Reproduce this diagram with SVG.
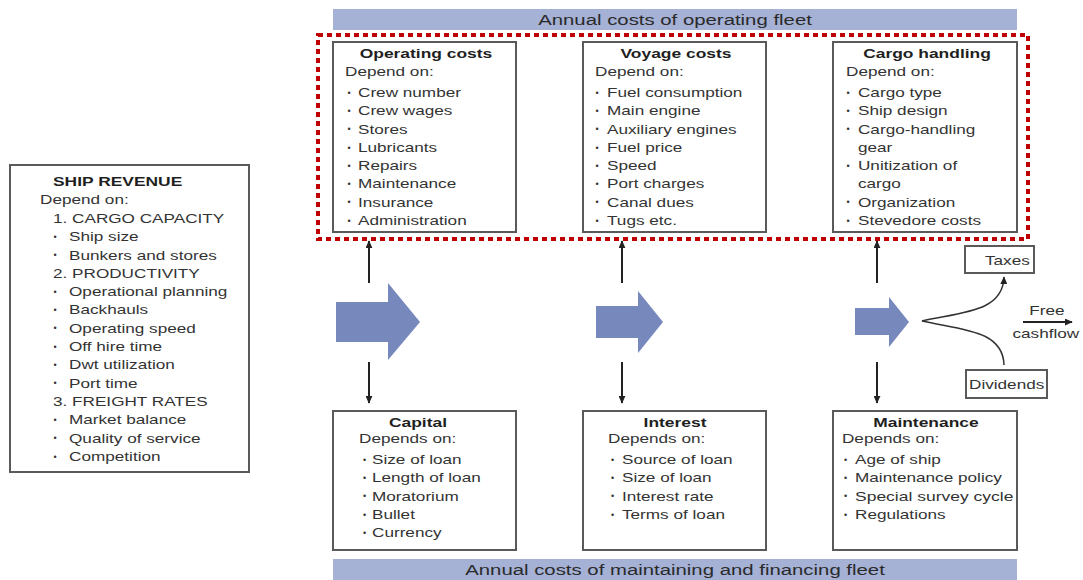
<svg xmlns="http://www.w3.org/2000/svg" width="1083" height="580" viewBox="0 0 1083 580">
  <style>
    text { font-family: "Liberation Sans", Arial, Helvetica, sans-serif; fill: #333; }
    /* body lines: left-aligned, widened horizontally */
    .s { font-size: 13px; transform-box: fill-box; transform-origin: 0 50%; transform: scaleX(1.32); }
    .sb { font-size: 13px; font-weight: bold; fill: #1f1f1f; transform-box: fill-box; transform-origin: 0 50%; transform: scaleX(1.34); }
    /* centred headings */
    .h { font-size: 13px; font-weight: bold; fill: #1f1f1f; text-anchor: middle; transform-box: fill-box; transform-origin: 50% 50%; transform: scaleX(1.34); }
    .c { font-size: 13px; text-anchor: middle; transform-box: fill-box; transform-origin: 50% 50%; transform: scaleX(1.32); }
    .ban { font-size: 15.3px; fill: #2a2a2a; text-anchor: middle; transform-box: fill-box; transform-origin: 50% 50%; transform: scaleX(1.33); }
    .b { font-size: 9px; fill: #333; }
    .box { fill: #fff; stroke: #5a5a5a; stroke-width: 2; }
    .band { fill: #a5b1d5; }
    .blk { fill: #7788bd; }
    .ln { fill: none; stroke: #222; stroke-width: 2; }
    .cv { fill: none; stroke: #333; stroke-width: 1.5; }
    .frame { fill: none; stroke: #c00000; stroke-width: 4; stroke-dasharray: 5 4; }
  </style>
  <defs>
    <marker id="ah" viewBox="0 0 10 10" refX="9" refY="5" markerWidth="8" markerHeight="7" preserveAspectRatio="none" orient="auto" markerUnits="userSpaceOnUse">
      <path d="M0,0 L10,5 L0,10 z" fill="#222"/>
    </marker>
  </defs>

  <rect width="1083" height="580" fill="#fff"/>

  <!-- header and footer bands -->
  <g id="band-operating">
    <rect class="band" x="333" y="9" width="684" height="21"/>
    <text class="ban" x="675" y="25">Annual costs of operating fleet</text>
  </g>
  <g id="band-financing">
    <rect class="band" x="333" y="559" width="684" height="21"/>
    <text class="ban" x="675" y="575">Annual costs of maintaining and financing fleet</text>
  </g>

  <!-- ship revenue -->
  <g id="ship-revenue">
    <rect class="box" x="10" y="165" width="239" height="307"/>
    <text class="sb" x="53" y="186">SHIP REVENUE</text>
    <text class="s" x="40" y="204">Depend on:</text>
    <text class="s" x="53" y="223">1. CARGO CAPACITY</text>
    <text class="b" x="53.5" y="239.9">•</text><text class="s" x="69" y="241.3">Ship size</text>
    <text class="b" x="53.5" y="258.2">•</text><text class="s" x="69" y="259.6">Bunkers and stores</text>
    <text class="s" x="53" y="277.9">2. PRODUCTIVITY</text>
    <text class="b" x="53.5" y="294.8">•</text><text class="s" x="69" y="296.2">Operational planning</text>
    <text class="b" x="53.5" y="313.1">•</text><text class="s" x="69" y="314.5">Backhauls</text>
    <text class="b" x="53.5" y="331.4">•</text><text class="s" x="69" y="332.8">Operating speed</text>
    <text class="b" x="53.5" y="349.7">•</text><text class="s" x="69" y="351.1">Off hire time</text>
    <text class="b" x="53.5" y="368">•</text><text class="s" x="69" y="369.4">Dwt utilization</text>
    <text class="b" x="53.5" y="386.3">•</text><text class="s" x="69" y="387.7">Port time</text>
    <text class="s" x="53" y="406">3. FREIGHT RATES</text>
    <text class="b" x="53.5" y="422.9">•</text><text class="s" x="69" y="424.3">Market balance</text>
    <text class="b" x="53.5" y="441.2">•</text><text class="s" x="69" y="442.6">Quality of service</text>
    <text class="b" x="53.5" y="459.5">•</text><text class="s" x="69" y="460.9">Competition</text>
  </g>

  <!-- operating cost boxes -->
  <g id="operating-costs">
    <rect class="box" x="333" y="42" width="183" height="190"/>
    <text class="h" x="426" y="58">Operating costs</text>
    <text class="s" x="345" y="76">Depend on:</text>
    <text class="b" x="347.5" y="95.6">•</text><text class="s" x="358" y="97">Crew number</text>
    <text class="b" x="347.5" y="113.9">•</text><text class="s" x="358" y="115.3">Crew wages</text>
    <text class="b" x="347.5" y="132.2">•</text><text class="s" x="358" y="133.6">Stores</text>
    <text class="b" x="347.5" y="150.5">•</text><text class="s" x="358" y="151.9">Lubricants</text>
    <text class="b" x="347.5" y="168.8">•</text><text class="s" x="358" y="170.2">Repairs</text>
    <text class="b" x="347.5" y="187.1">•</text><text class="s" x="358" y="188.5">Maintenance</text>
    <text class="b" x="347.5" y="205.4">•</text><text class="s" x="358" y="206.8">Insurance</text>
    <text class="b" x="347.5" y="223.7">•</text><text class="s" x="358" y="225.1">Administration</text>
  </g>

  <g id="voyage-costs">
    <rect class="box" x="583" y="42" width="183" height="190"/>
    <text class="h" x="676" y="58">Voyage costs</text>
    <text class="s" x="595" y="76">Depend on:</text>
    <text class="b" x="595.5" y="95.6">•</text><text class="s" x="607" y="97">Fuel consumption</text>
    <text class="b" x="595.5" y="113.9">•</text><text class="s" x="607" y="115.3">Main engine</text>
    <text class="b" x="595.5" y="132.2">•</text><text class="s" x="607" y="133.6">Auxiliary engines</text>
    <text class="b" x="595.5" y="150.5">•</text><text class="s" x="607" y="151.9">Fuel price</text>
    <text class="b" x="595.5" y="168.8">•</text><text class="s" x="607" y="170.2">Speed</text>
    <text class="b" x="595.5" y="187.1">•</text><text class="s" x="607" y="188.5">Port charges</text>
    <text class="b" x="595.5" y="205.4">•</text><text class="s" x="607" y="206.8">Canal dues</text>
    <text class="b" x="595.5" y="223.7">•</text><text class="s" x="607" y="225.1">Tugs etc.</text>
  </g>

  <g id="cargo-handling">
    <rect class="box" x="833" y="42" width="184" height="190"/>
    <text class="h" x="927" y="58">Cargo handling</text>
    <text class="s" x="846" y="76">Depend on:</text>
    <text class="b" x="846.5" y="95.6">•</text><text class="s" x="858" y="97">Cargo type</text>
    <text class="b" x="846.5" y="113.9">•</text><text class="s" x="858" y="115.3">Ship design</text>
    <text class="b" x="846.5" y="132.2">•</text><text class="s" x="858" y="133.6">Cargo-handling</text>
    <text class="s" x="858" y="151.9">gear</text>
    <text class="b" x="846.5" y="168.8">•</text><text class="s" x="858" y="170.2">Unitization of</text>
    <text class="s" x="858" y="188.5">cargo</text>
    <text class="b" x="846.5" y="205.4">•</text><text class="s" x="858" y="206.8">Organization</text>
    <text class="b" x="846.5" y="223.7">•</text><text class="s" x="858" y="225.1">Stevedore costs</text>
  </g>

  <!-- highlight around the operating cost boxes -->
  <rect class="frame" x="318" y="35" width="710" height="204"/>

  <!-- maintaining and financing boxes -->
  <g id="capital">
    <rect class="box" x="333" y="411" width="183" height="139"/>
    <text class="h" x="418" y="427">Capital</text>
    <text class="s" x="359" y="443">Depends on:</text>
    <text class="b" x="363" y="462.6">•</text><text class="s" x="372" y="464">Size of loan</text>
    <text class="b" x="363" y="480.9">•</text><text class="s" x="372" y="482.3">Length of loan</text>
    <text class="b" x="363" y="499.2">•</text><text class="s" x="372" y="500.6">Moratorium</text>
    <text class="b" x="363" y="517.5">•</text><text class="s" x="372" y="518.9">Bullet</text>
    <text class="b" x="363" y="535.8">•</text><text class="s" x="372" y="537.2">Currency</text>
  </g>

  <g id="interest">
    <rect class="box" x="583" y="411" width="183" height="139"/>
    <text class="h" x="675" y="427">Interest</text>
    <text class="s" x="608" y="443">Depends on:</text>
    <text class="b" x="611" y="462.6">•</text><text class="s" x="622" y="464">Source of loan</text>
    <text class="b" x="611" y="480.9">•</text><text class="s" x="622" y="482.3">Size of loan</text>
    <text class="b" x="611" y="499.2">•</text><text class="s" x="622" y="500.6">Interest rate</text>
    <text class="b" x="611" y="517.5">•</text><text class="s" x="622" y="518.9">Terms of loan</text>
  </g>

  <g id="maintenance">
    <rect class="box" x="833" y="411" width="184" height="139"/>
    <text class="h" x="926" y="427">Maintenance</text>
    <text class="s" x="842" y="443">Depends on:</text>
    <text class="b" x="844" y="462.6">•</text><text class="s" x="855" y="464">Age of ship</text>
    <text class="b" x="844" y="480.9">•</text><text class="s" x="855" y="482.3">Maintenance policy</text>
    <text class="b" x="844" y="499.2">•</text><text class="s" x="855" y="500.6" textLength="120" lengthAdjust="spacingAndGlyphs">Special survey cycle</text>
    <text class="b" x="844" y="517.5">•</text><text class="s" x="855" y="518.9">Regulations</text>
  </g>

  <!-- cash distribution -->
  <g id="taxes">
    <rect class="box" x="965" y="246" width="69" height="27"/>
    <text class="s" x="985" y="265">Taxes</text>
  </g>
  <g id="dividends">
    <rect class="box" x="966" y="370" width="81" height="28"/>
    <text class="s" x="969" y="389">Dividends</text>
  </g>
  <g id="free-cashflow">
    <text class="c" x="1047" y="315">Free</text>
    <text class="c" x="1046" y="338">cashflow</text>
  </g>

  <!-- broad flow arrows -->
  <g id="flow-arrows">
    <path class="blk" d="M336,302 H388 V283 L420,322 L388,360 V342 H336 Z"/>
    <path class="blk" d="M596,306 H638 V291 L663,322 L638,353 V338 H596 Z"/>
    <path class="blk" d="M855,308 H889 V297 L909,322 L889,347 V335 H855 Z"/>
  </g>

  <!-- connectors -->
  <g id="connectors">
    <line class="ln" x1="369" y1="283" x2="369" y2="241" marker-end="url(#ah)"/>
    <line class="ln" x1="369" y1="362" x2="369" y2="403" marker-end="url(#ah)"/>
    <line class="ln" x1="622" y1="283" x2="622" y2="241" marker-end="url(#ah)"/>
    <line class="ln" x1="622" y1="362" x2="622" y2="403" marker-end="url(#ah)"/>
    <line class="ln" x1="877" y1="283" x2="877" y2="241" marker-end="url(#ah)"/>
    <line class="ln" x1="877" y1="362" x2="877" y2="403" marker-end="url(#ah)"/>
    <path class="cv" d="M922,321 C962,312 1003,312 1004,277" marker-end="url(#ah)"/>
    <path class="cv" d="M922,321 C962,330 1003,330 1004,365"/>
    <line class="ln" x1="1023" y1="322" x2="1072" y2="322" marker-end="url(#ah)"/>
  </g>
</svg>
